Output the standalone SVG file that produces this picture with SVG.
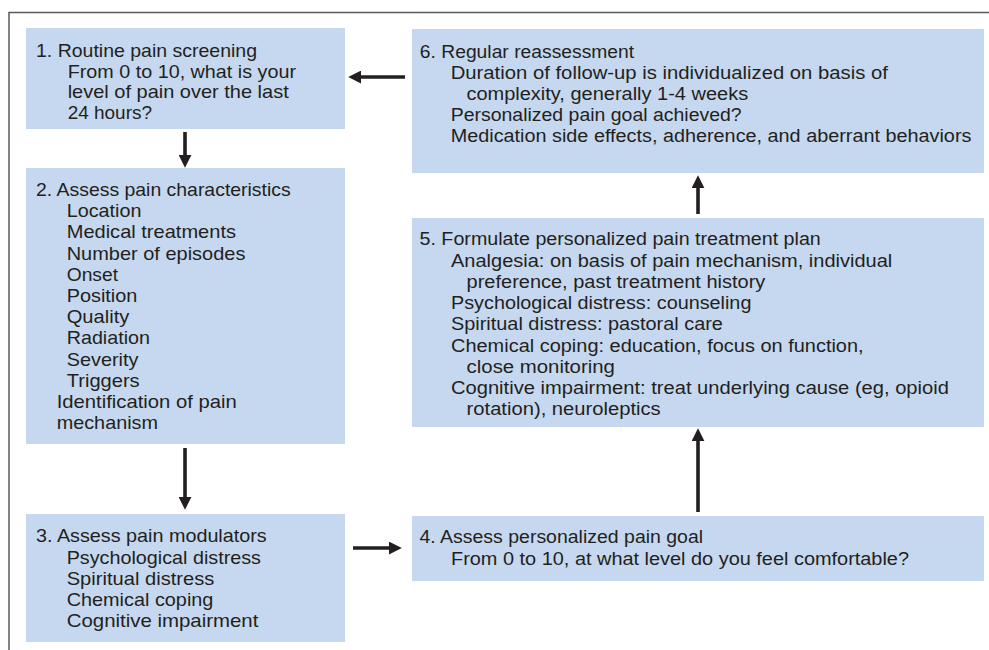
<svg xmlns="http://www.w3.org/2000/svg" width="989" height="650" viewBox="0 0 989 650">
<style>
.bg{fill:#ffffff}
.frame{stroke:#5a5a5a;stroke-width:1.5;fill:none}
.box{fill:#c5d8ef;stroke:none}
.t{font-family:"Liberation Sans",Arial,sans-serif;fill:#231f20}
.w{font-size:18.5px}
.n{font-size:17.5px}
.arr{stroke:#231f20;stroke-width:3.6;fill:none;marker-end:url(#ah)}
</style>
<defs>
<marker id="ah" markerUnits="userSpaceOnUse" markerWidth="13" markerHeight="13" viewBox="0 0 12 12" refX="2" refY="6" orient="auto">
<path d="M0,0 L12,6 L0,12 z" fill="#231f20"/>
</marker>
</defs>
<rect class="bg" x="0" y="0" width="989" height="650"/>
<path class="frame" d="M9,650 L9,12.5 L989,12.5"/>

<g id="node1">
<rect class="box" x="26" y="28" width="319" height="101"/>
<text class="t w" x="36" y="56.7" textLength="221" lengthAdjust="spacingAndGlyphs">1. Routine pain screening</text>
<text class="t w" x="67.7" y="77.6" textLength="228.3" lengthAdjust="spacingAndGlyphs">From 0 to 10, what is your</text>
<text class="t w" x="67.7" y="98.4" textLength="221" lengthAdjust="spacingAndGlyphs">level of pain over the last</text>
<text class="t w" x="67.7" y="119.3" textLength="84.3" lengthAdjust="spacingAndGlyphs">24 hours?</text>
</g>

<g id="node2">
<rect class="box" x="26" y="168" width="319" height="276"/>
<text class="t w" x="36" y="196" textLength="254.7" lengthAdjust="spacingAndGlyphs">2. Assess pain characteristics</text>
<text class="t w" x="66.7" y="217.2" textLength="74.7" lengthAdjust="spacingAndGlyphs">Location</text>
<text class="t w" x="66.7" y="238.4" textLength="169.3" lengthAdjust="spacingAndGlyphs">Medical treatments</text>
<text class="t w" x="66.7" y="259.6" textLength="178.7" lengthAdjust="spacingAndGlyphs">Number of episodes</text>
<text class="t w" x="66.7" y="280.8" textLength="51.3" lengthAdjust="spacingAndGlyphs">Onset</text>
<text class="t w" x="66.7" y="302" textLength="70.7" lengthAdjust="spacingAndGlyphs">Position</text>
<text class="t w" x="66.7" y="323.2" textLength="62.7" lengthAdjust="spacingAndGlyphs">Quality</text>
<text class="t w" x="66.7" y="344.4" textLength="83.3" lengthAdjust="spacingAndGlyphs">Radiation</text>
<text class="t w" x="66.7" y="365.6" textLength="71.7" lengthAdjust="spacingAndGlyphs">Severity</text>
<text class="t w" x="66.7" y="386.8" textLength="73" lengthAdjust="spacingAndGlyphs">Triggers</text>
<text class="t w" x="56.7" y="408" textLength="180" lengthAdjust="spacingAndGlyphs">Identification of pain</text>
<text class="t w" x="56.7" y="429.2" textLength="101.3" lengthAdjust="spacingAndGlyphs">mechanism</text>
</g>

<g id="node3">
<rect class="box" x="26" y="514" width="319" height="128"/>
<text class="t w" x="36" y="542.3" textLength="230.7" lengthAdjust="spacingAndGlyphs">3. Assess pain modulators</text>
<text class="t w" x="66.7" y="563.6" textLength="194.3" lengthAdjust="spacingAndGlyphs">Psychological distress</text>
<text class="t w" x="66.7" y="584.8" textLength="147.7" lengthAdjust="spacingAndGlyphs">Spiritual distress</text>
<text class="t w" x="66.7" y="606.1" textLength="146.7" lengthAdjust="spacingAndGlyphs">Chemical coping</text>
<text class="t w" x="66.7" y="627.3" textLength="191.7" lengthAdjust="spacingAndGlyphs">Cognitive impairment</text>
</g>

<g id="node4">
<rect class="box" x="412" y="516" width="572" height="65"/>
<text class="t n" x="419.5" y="543.3" textLength="283.6" lengthAdjust="spacingAndGlyphs">4. Assess personalized pain goal</text>
<text class="t n" x="451" y="564.8" textLength="458" lengthAdjust="spacingAndGlyphs">From 0 to 10, at what level do you feel comfortable?</text>
</g>

<g id="node5">
<rect class="box" x="412" y="218" width="572" height="209"/>
<text class="t n" x="419.5" y="245.3" textLength="401.3" lengthAdjust="spacingAndGlyphs">5. Formulate personalized pain treatment plan</text>
<text class="t n" x="451" y="266.5" textLength="441.2" lengthAdjust="spacingAndGlyphs">Analgesia: on basis of pain mechanism, individual</text>
<text class="t n" x="466.6" y="287.8" textLength="298.7" lengthAdjust="spacingAndGlyphs">preference, past treatment history</text>
<text class="t n" x="451" y="309" textLength="300.4" lengthAdjust="spacingAndGlyphs">Psychological distress: counseling</text>
<text class="t n" x="451" y="330.3" textLength="271.9" lengthAdjust="spacingAndGlyphs">Spiritual distress: pastoral care</text>
<text class="t n" x="451" y="351.5" textLength="412.6" lengthAdjust="spacingAndGlyphs">Chemical coping: education, focus on function,</text>
<text class="t n" x="466.6" y="372.8" textLength="148.3" lengthAdjust="spacingAndGlyphs">close monitoring</text>
<text class="t n" x="451" y="394" textLength="497.9" lengthAdjust="spacingAndGlyphs">Cognitive impairment: treat underlying cause (eg, opioid</text>
<text class="t n" x="466.6" y="415.3" textLength="194.1" lengthAdjust="spacingAndGlyphs">rotation), neuroleptics</text>
</g>

<g id="node6">
<rect class="box" x="412" y="29" width="572" height="144"/>
<text class="t n" x="419.8" y="57.5" textLength="214.4" lengthAdjust="spacingAndGlyphs">6. Regular reassessment</text>
<text class="t n" x="450.7" y="78.7" textLength="437.2" lengthAdjust="spacingAndGlyphs">Duration of follow-up is individualized on basis of</text>
<text class="t n" x="466.4" y="99.9" textLength="281.8" lengthAdjust="spacingAndGlyphs">complexity, generally 1-4 weeks</text>
<text class="t n" x="450.7" y="121.1" textLength="291" lengthAdjust="spacingAndGlyphs">Personalized pain goal achieved?</text>
<text class="t n" x="450.7" y="142.3" textLength="520.7" lengthAdjust="spacingAndGlyphs">Medication side effects, adherence, and aberrant behaviors</text>
</g>

<g id="connectors">
<line class="arr" x1="185" y1="132" x2="185" y2="157"/>
<line class="arr" x1="185" y1="448" x2="185" y2="499"/>
<line class="arr" x1="353" y1="548" x2="391" y2="548"/>
<line class="arr" x1="698" y1="512" x2="698" y2="439"/>
<line class="arr" x1="698" y1="214" x2="698" y2="186"/>
<line class="arr" x1="405" y1="77" x2="359" y2="77"/>
</g>
</svg>
